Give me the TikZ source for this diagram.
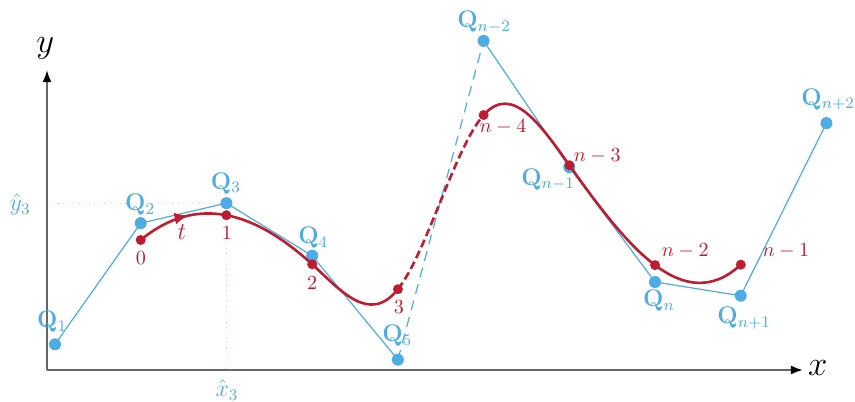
\documentclass[tikz,border=0pt]{standalone}
\usetikzlibrary{calc,arrows.meta,decorations.markings}
\definecolor{qblue}{RGB}{78,172,228}
\definecolor{sred}{RGB}{190,28,48}
\begin{document}
\begin{tikzpicture}[
  qdot/.style={circle, fill=qblue, inner sep=0pt, minimum size=2.1mm},
  sdot/.style={circle, fill=sred, inner sep=0pt, minimum size=1.75mm},
  qlab/.style={text=qblue, font=\large},
  slab/.style={text=sred},
  poly/.style={qblue, line width=0.6pt},
  spline/.style={sred, line width=1.3pt},
  axis/.style={black!60, line width=1pt, -{Latex[length=6pt,width=4.5pt,color=black]}},
  guide/.style={qblue!35, dotted, line width=0.6pt}]
  \useasboundingbox (-0.8225,-0.5425) rectangle (14.14,6.475);
  % control points, Q6..Q10 stand for Q_{n-2}..Q_{n+2}
  \coordinate (O) at (0,0);
  \coordinate (Q1) at (0.14,0.45);
  \coordinate (Q2) at (1.64,2.57);
  \coordinate (Q3) at (3.14,2.92);
  \coordinate (Q4) at (4.64,2.0);
  \coordinate (Q5) at (6.14,0.18);
  \coordinate (Q6) at (7.64,5.76);
  \coordinate (Q7) at (9.14,3.55);
  \coordinate (Q8) at (10.64,1.54);
  \coordinate (Q9) at (12.14,1.30);
  \coordinate (Q10) at (13.64,4.32);
  % knots of the uniform cubic B-spline
  \foreach \h/\i/\k in {1/2/3,2/3/4,3/4/5,4/5/6,5/6/7,6/7/8,7/8/9,8/9/10}
    \coordinate (S\i) at ($0.1667*(Q\h)+0.6667*(Q\i)+0.1667*(Q\k)$);
  % axes and guides
  \coordinate (xend) at (13.23,0);
  \coordinate (yend) at (0,5.25);
  \draw[guide] (Q3 -| O) -- (Q3) -- (Q3 |- O);
  \draw[axis] (O) -- (xend);
  \draw[axis] (O) -- (yend);
  \node[font=\LARGE] (lx) at (13.49,0.03) {$x$};
  \node[font=\LARGE] (ly) at (-0.03,5.63) {$y$};
  \node[qlab] (lyh) at (-0.47,2.89) {$\hat{y}_3$};
  \node[qlab] (lxh) at (3.15,-0.35) {$\hat{x}_3$};
  % control polygon
  \draw[poly] (Q1) -- (Q2) -- (Q3) -- (Q4) -- (Q5);
  \draw[poly, dash pattern=on 5pt off 3.5pt] (Q5) -- (Q6);
  \draw[poly] (Q6) -- (Q7) -- (Q8) -- (Q9) -- (Q10);
  \foreach \i in {1,...,10}
    \node[qdot] (q\i) at (Q\i) {};
  % spline
  \draw[spline, postaction={decorate}, decoration={markings,
      mark=at position 0.95cm with {\arrow{Latex[length=7pt,width=6pt]}}}]
    (S2) \foreach \i/\k in {2/3,3/4,4/5} {
      .. controls ($(Q\i)!1/3!(Q\k)$) and ($(Q\i)!2/3!(Q\k)$) .. (S\k)};
  \draw[spline, dash pattern=on 4pt off 2pt]
    (S5) .. controls ($(Q5)!1/3!(Q6)$) and ($(Q5)!2/3!(Q6)$) .. (S6);
  \draw[spline]
    (S6) \foreach \i/\k in {6/7,7/8,8/9} {
      .. controls ($(Q\i)!1/3!(Q\k)$) and ($(Q\i)!2/3!(Q\k)$) .. (S\k)};
  \foreach \i in {2,...,9}
    \node[sdot] (s\i) at (S\i) {};
  % labels
  \foreach \i/\pos/\sub in {1/{0.09,0.84}/1, 2/{1.63,2.89}/2, 3/{3.13,3.27}/3,
      4/{4.66,2.31}/4, 5/{6.13,0.6}/5, 6/{7.65,6.09}/{n-2}, 7/{8.77,3.33}/{n-1},
      8/{10.71,1.21}/n, 9/{12.2,0.91}/{n+1}, 10/{13.67,4.73}/{n+2}}
    \node[qlab] (lq\i) at (\pos) {$\mathbf{Q}_{\sub}$};
  \foreach \i/\pos/\txt in {2/{1.645,1.96}/0, 3/{3.15,2.4}/1, 4/{4.64,1.52}/2,
      5/{6.16,1.1}/3, 6/{7.98,4.25}/{n-4}, 7/{9.63,3.75}/{n-3},
      8/{11.17,2.08}/{n-2}, 9/{12.93,2.08}/{n-1}}
    \node[slab] (ls\i) at (\pos) {$\txt$};
  \node[slab, font=\large] (lt) at (2.36,2.42) {$t$};
\end{tikzpicture}
\end{document}
